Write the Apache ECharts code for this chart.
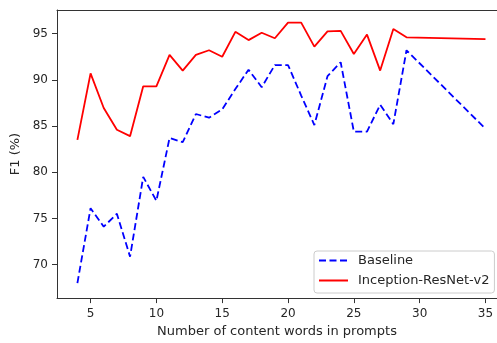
<!DOCTYPE html>
<html>
<head>
<meta charset="utf-8">
<script src="https://cdn.jsdelivr.net/npm/echarts@6/dist/echarts.min.js"></script>
<style>
  html, body { margin: 0; padding: 0; background: #fff; }
  #chart { width: 497px; height: 343px; }
</style>
</head>
<body>
<div id="chart"></div>
<script>
// number of content words in prompts
var words = [4, 5, 6, 7, 8, 9, 10, 11, 12, 13, 14, 15, 16, 17, 18, 19, 20, 21, 22, 23, 24, 25, 26, 27, 28, 29, 35];
var baseline = [68.0, 76.1, 74.1, 75.5, 70.85, 79.5, 76.9, 83.7, 83.25, 86.3, 85.9, 86.8, 89.0, 91.1, 89.2, 91.6, 91.6, 88.3, 85.1, 90.4, 91.9, 84.4, 84.4, 87.3, 85.2, 93.2, 84.7];
var inception = [83.5, 90.7, 86.95, 84.6, 83.9, 89.3, 89.3, 92.7, 91.0, 92.7, 93.2, 92.5, 95.2, 94.3, 95.1, 94.5, 96.2, 96.2, 93.6, 95.25, 95.3, 92.8, 94.9, 91.0, 95.5, 94.6, 94.4];
var xTicks = [5, 10, 15, 20, 25, 30, 35];
var yTicks = [70, 75, 80, 85, 90, 95];

function pairs(vals) {
  return words.map(function (w, i) { return [w, vals[i]]; });
}

var chart = echarts.init(document.getElementById('chart'));
var font = 'DejaVu Sans';
var txt = '#262626';
var spine = { show: true, lineStyle: { color: '#333' } };

chart.setOption({
  animation: false,
  textStyle: { fontFamily: font },
  // right side of the frame is cut off in the original picture
  grid: { left: 57, top: 10, right: 0, bottom: 41 },
  legend: {
    orient: 'vertical',
    left: 314, top: 251,
    padding: [3, 5, 6, 4],
    itemWidth: 29, itemHeight: 14, itemGap: 7,
    itemStyle: { opacity: 0 },
    borderColor: '#ccc', borderWidth: 1, borderRadius: 3,
    backgroundColor: 'rgba(255,255,255,0.8)',
    textStyle: { fontFamily: font, fontSize: 13, color: txt, padding: [0, 0, 0, 5] },
    data: ['Baseline', 'Inception-ResNet-v2']
  },
  xAxis: [
    {
      type: 'value', min: 2.45, max: 35.875,
      name: 'Number of content words in prompts',
      nameLocation: 'middle', nameGap: 26,
      nameTextStyle: { fontFamily: font, fontSize: 13, color: txt },
      splitLine: { show: false },
      axisLine: spine,
      axisTick: { show: true, length: 5, customValues: xTicks, lineStyle: { color: '#333' } },
      axisLabel: { customValues: xTicks, fontSize: 12, color: txt, margin: 10 }
    },
    {
      type: 'value', position: 'top', min: 2.45, max: 35.875,
      splitLine: { show: false },
      axisLine: spine,
      axisTick: { show: false },
      axisLabel: { show: false }
    }
  ],
  yAxis: {
    type: 'value', min: 66.37, max: 97.56,
    name: 'F1 (%)',
    nameLocation: 'middle', nameGap: 29, nameRotate: 90,
    nameTextStyle: { fontFamily: font, fontSize: 13, color: txt },
    splitLine: { show: false },
    axisLine: spine,
    axisTick: { show: true, length: 5, customValues: yTicks, lineStyle: { color: '#333' } },
    axisLabel: { customValues: yTicks, fontSize: 12, color: txt, margin: 9 }
  },
  series: [
    {
      name: 'Baseline', type: 'line', symbol: 'none',
      data: pairs(baseline),
      lineStyle: { color: '#0000ff', width: 1.8, type: [7, 3.5] },
      itemStyle: { color: '#0000ff' }
    },
    {
      name: 'Inception-ResNet-v2', type: 'line', symbol: 'none',
      data: pairs(inception),
      lineStyle: { color: '#ff0000', width: 1.8 },
      itemStyle: { color: '#ff0000' }
    }
  ]
});
</script>
</body>
</html>
